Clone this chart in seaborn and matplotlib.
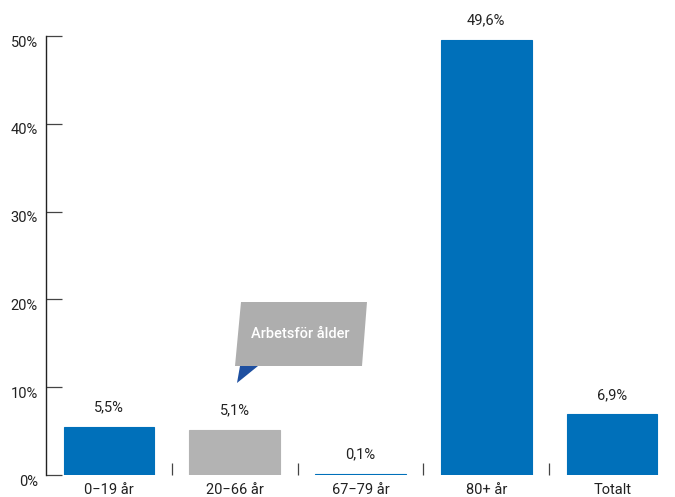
import matplotlib
matplotlib.use("Agg")
import matplotlib.pyplot as plt
import matplotlib.transforms as mtransforms
from matplotlib.patches import Polygon
import seaborn as sns
import pandas as pd

categories = ["0\u221219 år", "20\u221266 år", "67\u221279 år", "80+ år", "Totalt"]
values = [5.5, 5.1, 0.1, 49.6, 6.9]
value_labels = ["5,5%", "5,1%", "0,1%", "49,6%", "6,9%"]
bar_colors = ["#0070BA", "#B3B3B3", "#0070BA", "#0070BA", "#0070BA"]
y_ticks = [0, 10, 20, 30, 40, 50]
y_tick_labels = ["0%", "10%", "20%", "30%", "40%", "50%"]
callout_text = "Arbetsför ålder"

sns.set_theme(style="white")
plt.rcParams["font.family"] = ["Roboto", "DejaVu Sans"]

df = pd.DataFrame({"grupp": categories, "andel": values})

fig = plt.figure(figsize=(6.75, 4.97), dpi=100)
ax = fig.add_axes([46 / 675, 22 / 497, 629 / 675, 439 / 497])

sns.barplot(data=df, x="grupp", y="andel", hue="grupp",
            palette=bar_colors, width=0.72, saturation=1,
            legend=False, ax=ax)

# give every bar a thin edge in its own colour so tiny values stay visible
for patch, col in zip(ax.patches, bar_colors):
    patch.set_edgecolor(col)
    patch.set_linewidth(0.8)

ax.set_xlim(-0.5, len(categories) - 0.5)
ax.set_ylim(0, 50)
ax.set_xlabel("")
ax.set_ylabel("")

# value labels above each bar
for i, (v, lab) in enumerate(zip(values, value_labels)):
    ax.annotate(lab, (i, v), xytext=(0, 9), textcoords="offset points",
                ha="center", va="bottom", fontsize=10.5, color="#222222",
                annotation_clip=False)

# spines: only the left axis line
for side in ["top", "right", "bottom"]:
    ax.spines[side].set_visible(False)
ax.spines["left"].set_color("#222222")
ax.spines["left"].set_linewidth(1.0)

ax.set_yticks(y_ticks)
ax.set_yticklabels(y_tick_labels)
ax.tick_params(axis="y", left=True, direction="in", length=11.5, width=0.9,
               color="#444444", labelsize=10.5, labelcolor="#222222", pad=6)
for lab in ax.get_yticklabels():
    lab.set_transform(lab.get_transform() +
                      mtransforms.ScaledTranslation(0, -5 / 100, fig.dpi_scale_trans))

# category separator ticks between bars
ax.set_xticks([i + 0.5 for i in range(len(categories) - 1)], minor=True)
ax.set_xticks(range(len(categories)))
ax.set_xticklabels(categories)
ax.tick_params(axis="x", which="major", bottom=False, length=0,
               labelsize=10.5, labelcolor="#222222", pad=6)
ax.tick_params(axis="x", which="minor", bottom=True, direction="in",
               length=8.5, width=0.9, color="#444444")

# callout box with tail
W, H = 675, 497
def px(x, y):
    return (x / W, 1 - y / H)

tail = Polygon([px(240, 366), px(258, 366), px(237, 383)], closed=True,
               transform=fig.transFigure, facecolor="#1E4FA0",
               edgecolor="none", zorder=5)
box = Polygon([px(241, 302), px(367, 302), px(362, 366), px(235, 366)],
              closed=True, transform=fig.transFigure, facecolor="#AEAEAE",
              edgecolor="none", zorder=6)
fig.add_artist(tail)
fig.add_artist(box)
fig.text(*px(300, 334), callout_text, ha="center", va="center",
         color="white", fontsize=10.5, fontweight="medium", zorder=7)

fig.savefig("out.png", dpi=100)
